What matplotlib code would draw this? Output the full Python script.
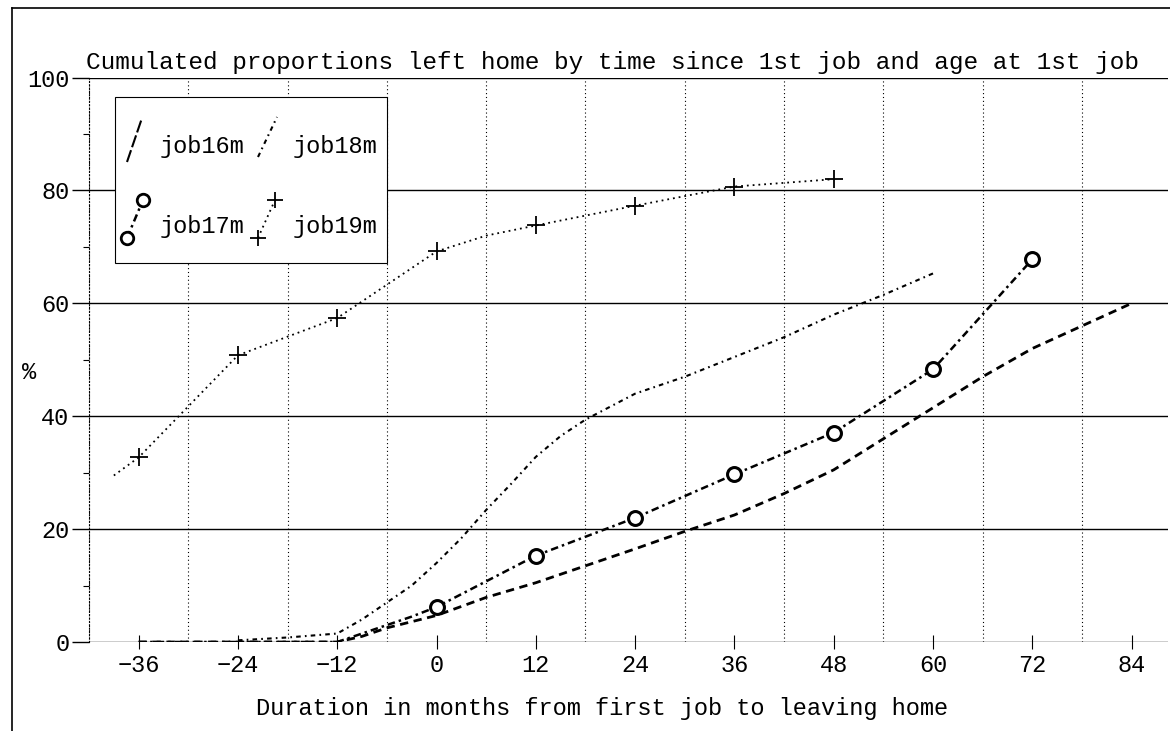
import matplotlib
matplotlib.use("Agg")
import matplotlib.pyplot as plt
from matplotlib.lines import Line2D
from matplotlib.patches import Rectangle

plt.rcParams['font.family'] = ['Liberation Mono', 'DejaVu Sans Mono']

# months since first job / cumulated % left home
job16m_x = [-36, -24, -12, -9, -6, 0, 6, 12, 18, 24, 30, 36, 42, 48, 54, 60, 66, 72, 78, 84]
job16m_y = [0, 0, 0, 1, 2.5, 4.7, 7.9, 10.5, 13.5, 16.5, 19.6, 22.5, 26.3, 30.5, 36, 41.5, 47, 52, 56, 60]

job17m_x = [-36, -24, -12, -9, -6, -3, 0, 12, 24, 36, 48, 60, 72]
job17m_y = [0, 0, 0, 1.5, 3, 4.5, 6.2, 15.3, 22, 29.7, 37.1, 48.3, 67.8]

job18m_x = [-24, -18, -12, -9, -6, -3, 0, 3, 6, 9, 12, 15, 18, 24, 30, 36, 42, 48, 54, 60]
job18m_y = [0.3, 0.8, 1.5, 4, 7, 10, 14, 18.4, 23.4, 28, 32.8, 36.5, 39.4, 44, 47, 50.5, 54, 58, 61.5, 65.3]

job19m_x = [-39, -36, -24, -12, 0, 6, 12, 24, 36, 48]
job19m_y = [29.5, 32.7, 50.8, 57.4, 69.2, 72, 73.8, 77.3, 80.7, 82]
job19m_mark = [1, 2, 3, 4, 6, 7, 8, 9]   # points that carry a "+"
job17m_mark = [6, 7, 8, 9, 10, 11, 12]   # points that carry a circle

xticks = [-36, -24, -12, 0, 12, 24, 36, 48, 60, 72, 84]
xgrid = [-42, -30, -18, -6, 6, 18, 30, 42, 54, 66, 78]
yticks = [0, 20, 40, 60, 80, 100]

W, H = 1170, 731
fig = plt.figure(figsize=(W / 100, H / 100), dpi=100)
ax = fig.add_axes([89 / W, 1 - 642 / H, (1168 - 89) / W, (642 - 77.6) / H])

st16 = dict(color='black', lw=2.0, dashes=(3, 2))
st17 = dict(color='black', lw=1.8, dashes=(3, 1.6, 1, 1.6))
st18 = dict(color='black', lw=1.5, dashes=(2.2, 2, 0.8, 2))
st19 = dict(color='black', lw=1.3, dashes=(1, 2.2))

ax.plot(job16m_x, job16m_y, **st16)
ax.plot(job17m_x, job17m_y, **st17)
ax.plot(job18m_x, job18m_y, **st18)
ax.plot(job19m_x, job19m_y, **st19)
ax.plot([job17m_x[i] for i in job17m_mark], [job17m_y[i] for i in job17m_mark],
        ls='none', marker='o', ms=10, mfc='white', mec='black', mew=2.2)
ax.plot([job19m_x[i] for i in job19m_mark], [job19m_y[i] for i in job19m_mark],
        ls='none', marker='+', ms=13, mec='black', mew=1.3)

ax.set_xlim(-42, 88.4)
ax.set_ylim(0, 100)
ax.set_xticks(xticks)
ax.set_xticks(xgrid, minor=True)
ax.set_yticks(yticks)
ax.set_yticks([10, 30, 50, 70, 90], minor=True)
ax.grid(True, which='minor', axis='x', color='black', ls=(0, (1, 2.5)), lw=0.8)
ax.grid(True, which='major', axis='y', color='black', ls='-', lw=1.0)
ax.tick_params(axis='x', which='major', direction='inout', length=10, width=0.8, pad=4, labelsize=17)
ax.tick_params(axis='x', which='minor', length=0)
ax.tick_params(axis='y', which='major', direction='out', length=12, width=1.0, pad=2, labelsize=17)
ax.tick_params(axis='y', which='minor', direction='out', length=4, width=0.8)
for s in ['top', 'right', 'bottom']:
    ax.spines[s].set_visible(False)
ax.spines['left'].set_linestyle((0, (1, 2)))
ax.spines['left'].set_linewidth(0.8)

fig.text(86 / W, 1 - 62 / H, 'Cumulated proportions left home by time since 1st job and age at 1st job',
         fontsize=17.6, ha='left', va='center')
fig.text(602 / W, 1 - 708 / H, 'Duration in months from first job to leaving home',
         fontsize=17, ha='center', va='center')
fig.text(29 / W, 1 - 372 / H, '%', fontsize=17, ha='center', va='center')

# page frame
fig.add_artist(Line2D([12 / W, 12 / W], [0, 1 - 8 / H], transform=fig.transFigure, color='black', lw=1.2))
fig.add_artist(Line2D([12 / W, 1], [1 - 8 / H, 1 - 8 / H], transform=fig.transFigure, color='black', lw=1.2))


def px(x, y):
    return x / W, 1 - y / H


# legend drawn by hand
x0, y0 = px(115, 263)
x1, y1 = px(387, 97)
fig.add_artist(Rectangle((x0, y0), x1 - x0, y1 - y0, transform=fig.transFigure,
                         facecolor='white', edgecolor='black', lw=0.8, zorder=5))

handles = [
    ('job16m', (127, 162), (142, 118), dict(color='black', lw=1.5, dashes=(6, 1.5)), None, 160, 147),
    ('job18m', (258, 157), (277, 117), st18, None, 293, 147),
    ('job17m', (127, 238), (143, 200), st17, 'o', 160, 227),
    ('job19m', (258, 238), (275, 200), st19, '+', 293, 227),
]
for label, p0, p1, st, mk, tx, ty in handles:
    a, b = px(*p0)
    c, d = px(*p1)
    fig.add_artist(Line2D([a, c], [b, d], transform=fig.transFigure, zorder=6, **st))
    if mk == 'o':
        fig.add_artist(Line2D([a, c], [b, d], transform=fig.transFigure, ls='none', marker='o',
                              ms=9, mfc='white', mec='black', mew=2, zorder=7))
    elif mk == '+':
        fig.add_artist(Line2D([a, c], [b, d], transform=fig.transFigure, ls='none', marker='+',
                              ms=12, mec='black', mew=1.3, zorder=7))
    fig.text(tx / W, 1 - ty / H, label, fontsize=17, ha='left', va='center', zorder=8)

fig.savefig('out.png', dpi=100, facecolor='white')
